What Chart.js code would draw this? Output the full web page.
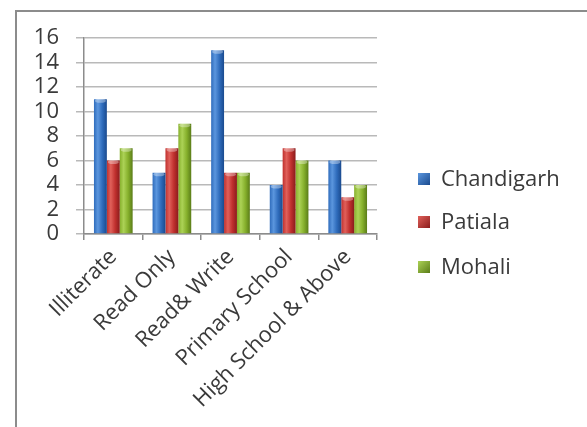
<!DOCTYPE html>
<html>
<head>
<meta charset="utf-8">
<script src="https://cdn.jsdelivr.net/npm/chart.js@4/dist/chart.umd.min.js"></script>
<style>
  html, body { margin: 0; padding: 0; background: #fff; }
  #wrap { position: relative; width: 587px; height: 427px; overflow: hidden; }
  #frame { position: absolute; left: 15px; top: 10px; width: 600px; height: 440px;
           border-top: 2px solid #8c8c8c; border-left: 2px solid #8c8c8c; box-sizing: border-box; }
  canvas { position: absolute; left: 0; top: 0; }
</style>
</head>
<body>
<div id="wrap">
  <div id="frame"></div>
  <canvas id="c" width="587" height="427"></canvas>
</div>
<script>
// Literacy level counts by city
const categories = ["Illiterate", "Read Only", "Read& Write", "Primary School", "High School & Above"];
const chandigarh = [11, 5, 15, 4, 6];
const patiala    = [6, 7, 5, 7, 3];
const mohali     = [7, 9, 5, 6, 4];
const seriesNames = ["Chandigarh", "Patiala", "Mohali"];
const yTicks = [0, 2, 4, 6, 8, 10, 12, 14, 16];

// shading stops per series: [edge, highlight, dark edge]
const shades = [
  ["#2f6cbc", "#5b96de", "#1a4a8e"],
  ["#c0302e", "#e0605a", "#8a1c1c"],
  ["#86b02c", "#acd256", "#5a7c18"]
];

function barGradient(ctx2d, left, right, s) {
  const g = ctx2d.createLinearGradient(left, 0, right, 0);
  g.addColorStop(0, s[0]);
  g.addColorStop(0.3, s[1]);
  g.addColorStop(0.65, s[0]);
  g.addColorStop(1, s[2]);
  return g;
}

function fillFor(dsIndex) {
  return function (ctx) {
    const el = ctx.element;
    if (!el || !el.width) return shades[dsIndex][0];
    return barGradient(ctx.chart.ctx, el.x - el.width / 2, el.x + el.width / 2, shades[dsIndex]);
  };
}

const textColor = "#3a3a3a";
const font = "'Open Sans', Lato, sans-serif";

// small highlight on top of every bar
const capPlugin = {
  id: "caps",
  afterDatasetsDraw(chart) {
    const c = chart.ctx;
    chart.data.datasets.forEach((ds, i) => {
      chart.getDatasetMeta(i).data.forEach(el => {
        const w = el.width;
        c.save();
        c.fillStyle = "rgba(255,255,255,0.35)";
        c.beginPath();
        c.ellipse(el.x, el.y + 1.5, w / 2 - 1, 2, 0, 0, Math.PI * 2);
        c.fill();
        c.restore();
      });
    });
  }
};

// legend at the right side
const sideLegend = {
  id: "sideLegend",
  afterDraw(chart) {
    const c = chart.ctx;
    const rows = [179, 222, 267];
    c.save();
    c.font = "22px " + font;
    c.textBaseline = "middle";
    c.textAlign = "left";
    chart.data.datasets.forEach((ds, i) => {
      const y = rows[i];
      const bx = 418, bs = 12;
      const g = c.createLinearGradient(bx, y - bs / 2, bx + bs, y + bs / 2);
      g.addColorStop(0, shades[i][1]);
      g.addColorStop(1, shades[i][2]);
      c.fillStyle = g;
      c.fillRect(bx, y - bs / 2, bs, bs);
      c.fillStyle = textColor;
      c.fillText(ds.label, 441, y + 1);
    });
    c.restore();
  }
};

const chart = new Chart(document.getElementById("c"), {
  type: "bar",
  data: {
    labels: categories,
    datasets: [
      { label: seriesNames[0], data: chandigarh, backgroundColor: fillFor(0) },
      { label: seriesNames[1], data: patiala,    backgroundColor: fillFor(1) },
      { label: seriesNames[2], data: mohali,     backgroundColor: fillFor(2) }
    ]
  },
  options: {
    responsive: false,
    animation: false,
    events: [],
    layout: { padding: { left: 0, top: 38, right: 210, bottom: 0 } },
    datasets: { bar: { barPercentage: 1, categoryPercentage: 0.66, borderWidth: 0 } },
    plugins: { legend: { display: false }, tooltip: { enabled: false } },
    scales: {
      x: {
        grid: { offset: true, drawOnChartArea: false, drawTicks: true, tickLength: 6, color: "#8c8c8c", lineWidth: 1.5 },
        border: { color: "#8c8c8c", width: 1.5 },
        ticks: { color: textColor, font: { family: font, size: 22 }, maxRotation: 45, minRotation: 45, padding: 4, autoSkip: false },
        afterFit(s) { s.height = 193; }
      },
      y: {
        min: 0, max: 16,
        afterBuildTicks(s) { s.ticks = yTicks.map(v => ({ value: v })); },
        grid: { color: "#b9b9b9", lineWidth: 1.5, tickLength: 8 },
        border: { color: "#8c8c8c", width: 1.5 },
        ticks: { color: textColor, font: { family: font, size: 22 }, padding: 17, autoSkip: false },
        afterFit(s) { s.width = 84; }
      }
    }
  },
  plugins: [capPlugin, sideLegend]
});
// second pass so the shading knows each bar's final position
chart.update("none");
</script>
</body>
</html>
